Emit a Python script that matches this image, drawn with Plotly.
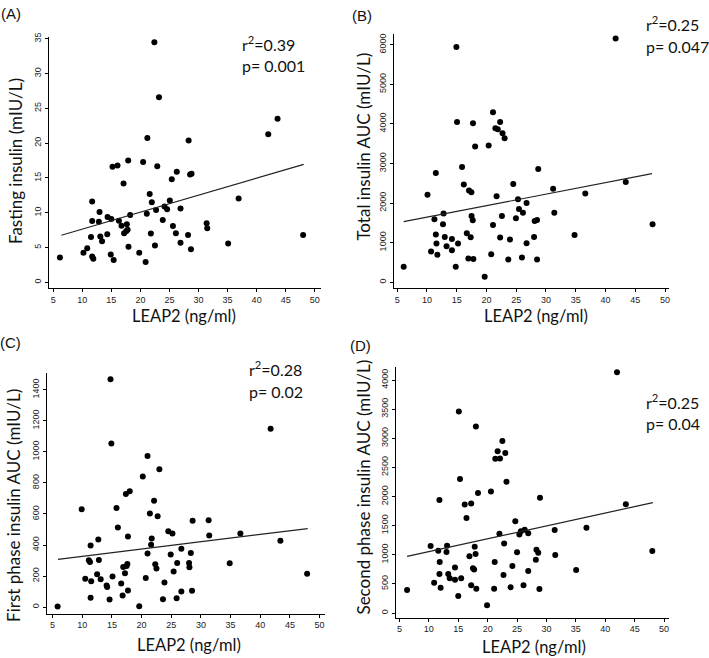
import plotly.graph_objects as go

# ---------------- data ----------------
leap2_a = [6.15, 10.2, 10.85, 11.5, 11.7, 11.7, 11.7, 11.9, 12.85, 12.97, 13.1, 13.4, 14.3, 14.35, 15.0, 14.9,
           15.4, 15.2, 16.06, 16.3, 16.75, 17.1, 17.2, 17.55, 17.66, 17.8, 17.95, 17.9, 18.24, 19.8, 20.47, 20.9,
           21.1, 21.2, 21.6, 21.8, 21.96, 22.4, 22.5, 22.7, 22.9, 23.2, 23.85, 24.14, 24.6, 25.06, 25.4, 25.6,
           26.1, 26.26, 26.9, 26.9, 28.2, 28.3, 28.55, 28.8, 28.7, 31.4, 31.5, 35.1, 36.9, 42.0, 43.6, 48.0]
fasting_insulin = [3.57, 4.24, 4.9, 6.5, 8.8, 11.6, 3.7, 3.4, 8.7, 10.1, 6.6, 5.9, 6.9, 9.4, 9.1, 4.0,
                   3.2, 16.6, 16.8, 8.86, 8.14, 14.2, 7.05, 7.33, 8.33, 7.57, 5.1, 17.5, 9.67, 4.24, 17.3, 2.9,
                   9.86, 20.76, 12.7, 7.0, 11.5, 34.5, 5.3, 10.4, 16.7, 26.6, 8.95, 10.9, 10.5, 11.76, 14.8, 8.1,
                   7.05, 15.9, 10.6, 5.7, 6.8, 20.4, 15.5, 15.6, 4.76, 8.5, 7.76, 5.57, 12.05, 21.3, 23.5, 6.8]
fit_x_a = [6.4, 48.1]
fit_y_a = [6.76, 16.95]

leap2_b = [6.1, 10.1, 10.7, 11.26, 11.5, 11.5, 11.6, 11.76, 12.7, 12.8, 13.0, 13.3, 14.2, 14.2, 14.84, 14.95,
           15.06, 15.23, 15.9, 16.2, 16.7, 16.96, 17.07, 17.35, 17.47, 17.5, 17.7, 17.74, 17.8, 18.1, 19.7, 20.37,
           20.8, 21.1, 21.1, 21.5, 21.7, 21.9, 22.3, 22.3, 22.6, 22.7, 23.05, 23.67, 23.95, 24.5, 24.95, 25.3,
           25.46, 25.96, 26.13, 26.74, 26.74, 28.0, 28.1, 28.5, 28.5, 28.7, 31.2, 31.4, 34.8, 36.6, 41.7, 43.4, 47.9]
total_insulin_auc = [393, 2209, 778, 1590, 2761, 1205, 979, 695, 1464, 1740, 1146, 912, 1096, 812, 393, 5941,
                     4050, 979, 2912, 2469, 1238, 602, 2318, 1138, 2276, 1674, 1565, 4017, 586, 3431, 142, 3456,
                     711, 1448, 4293, 3891, 2176, 3866, 4050, 1130, 1674, 3766, 3640, 577, 1079, 2485, 1615, 2100,
                     1849, 628, 1757, 2000, 987, 1146, 1548, 1573, 577, 2862, 2360, 1757, 1197, 2243, 6159, 2535, 1464]
fit_x_b = [6.1, 47.8]
fit_y_b = [1531, 2745]

leap2_c = [5.84, 9.9, 10.5, 11.1, 11.3, 11.4, 11.5, 11.4, 12.5, 12.7, 12.8, 13.1, 14.1, 14.2, 14.6, 14.76,
           14.9, 15.1, 15.77, 16.0, 16.56, 16.8, 16.9, 17.2, 17.35, 17.46, 17.6, 17.7, 17.7, 18.0, 19.6, 20.2,
           20.7, 21.0, 21.0, 21.4, 21.6, 21.7, 22.1, 22.3, 22.5, 22.7, 23.0, 23.6, 23.85, 24.5, 24.9, 25.2,
           25.4, 25.9, 26.0, 26.7, 26.7, 28.0, 28.06, 28.3, 28.6, 28.5, 31.3, 31.4, 34.85, 36.65, 41.75, 43.4, 47.9]
first_phase_auc = [4, 630, 182, 301, 291, 397, 167, 60, 212, 436, 303, 180, 139, 130, 49, 1468,
                   1054, 197, 639, 513, 152, 75, 259, 218, 729, 265, 278, 455, 107, 746, 6, 842,
                   188, 974, 346, 603, 402, 442, 686, 276, 248, 586, 889, 51, 158, 489, 338, 474,
                   229, 56, 284, 376, 100, 284, 256, 348, 556, 105, 560, 462, 282, 474, 1150, 427, 214]
fit_x_c = [5.9, 48.0]
fit_y_c = [308, 506]

leap2_d = [6.3, 10.3, 10.9, 11.6, 11.8, 11.85, 11.8, 12.0, 13.0, 13.1, 13.3, 13.55, 14.45, 14.45, 15.0, 15.1,
           15.3, 15.5, 16.1, 16.4, 16.9, 17.2, 17.2, 17.5, 17.7, 17.8, 17.95, 18.0, 18.07, 18.36, 19.9, 20.56,
           21.1, 21.2, 21.3, 21.7, 22.0, 22.1, 22.5, 22.7, 22.8, 23.0, 23.2, 23.9, 24.2, 24.7, 25.0, 25.4,
           25.65, 26.1, 26.3, 26.9, 26.9, 28.2, 28.3, 28.6, 28.8, 28.9, 31.4, 31.5, 35.05, 36.8, 42.0, 43.5, 48.0]
second_phase_auc = [393, 1149, 518, 1070, 1940, 876, 671, 432, 1047, 1155, 671, 597, 780, 569, 290, 3460,
                    2299, 597, 1861, 1633, 973, 478, 1878, 768, 745, 1138, 1013, 3203, 415, 2060, 131, 2088,
                    415, 876, 2646, 2777, 1360, 2652, 2953, 654, 1195, 2748, 2253, 444, 808, 1576, 1041, 1349,
                    1405, 478, 1428, 1371, 723, 916, 1087, 1036, 410, 1980, 1423, 996, 740, 1462, 4131, 1866, 1064]
fit_x_d = [6.3, 48.1]
fit_y_d = [973, 1895]

x_ticks = [5, 10, 15, 20, 25, 30, 35, 40, 45, 50]
x_title = "LEAP2 (ng/ml)"
panel_labels = ["(A)", "(B)", "(C)", "(D)"]
y_titles = ["Fasting insulin (mIU/L)", "Total insulin AUC (mIU/L)",
            "First phase insulin AUC (mIU/L)", "Second phase insulin AUC (mIU/L)"]
r2_texts = ["r<sup>2</sup>=0.39", "r<sup>2</sup>=0.25", "r<sup>2</sup>=0.28", "r<sup>2</sup>=0.25"]
p_texts = ["p= 0.001", "p= 0.047", "p= 0.02", "p= 0.04"]

# ---------------- layout helpers ----------------
W, H = 709, 658


def fx(p):
    return p / W


def fy(p):
    return 1 - p / H


panels = [
    dict(x=leap2_a, y=fasting_insulin, fx=fit_x_a, fy=fit_y_a,
         dom_x=(49, 321), dom_y=(286, 33), xr=[4.26, 51.0], yr=[-0.86, 35.3], dtick=5,
         ytitle_pos=(15, 158), xtitle_pos=(184, 314), label_pos=(11, 10), ann_x=240, r_y=40, p_y=62),
    dict(x=leap2_b, y=total_insulin_auc, fx=fit_x_b, fy=fit_y_b,
         dom_x=(394.3, 670), dom_y=(285.7, 30), xr=[4.43, 50.67], yr=[-143, 6276], dtick=1000,
         ytitle_pos=(364, 143), xtitle_pos=(537, 314), label_pos=(363, 12), ann_x=645, r_y=20, p_y=43),
    dict(x=leap2_c, y=first_phase_auc, fx=fit_x_c, fy=fit_y_c,
         dom_x=(46.7, 325), dom_y=(613.3, 371.7), xr=[3.99, 50.84], yr=[-42, 1506], dtick=200,
         ytitle_pos=(14, 504), xtitle_pos=(189, 645), label_pos=(11, 341), ann_x=247, r_y=367, p_y=390),
    dict(x=leap2_d, y=second_phase_auc, fx=fit_x_d, fy=fit_y_d,
         dom_x=(396.3, 670), dom_y=(617.3, 365), xr=[4.37, 50.85], yr=[-78, 4227], dtick=500,
         ytitle_pos=(364, 486), xtitle_pos=(535, 647), label_pos=(361, 344), ann_x=645, r_y=400, p_y=422),
]

fig = go.Figure()
annotations = []
tick_font = dict(family="Liberation Sans, Arial, sans-serif", size=9, color="#222222")
xtitle_font = dict(family="Lato, Open Sans, sans-serif", size=16.5, color="#111111")
ytitle_font = dict(family="Lato, Open Sans, sans-serif", size=17, color="#111111")
stat_font = dict(family="Lato, Open Sans, sans-serif", size=16, color="#111111")
label_font = dict(family="Liberation Sans, Arial, sans-serif", size=15, color="#111111")

for i, p in enumerate(panels):
    n = "" if i == 0 else str(i + 1)
    xa, ya = "x" + n, "y" + n
    fig.add_trace(go.Scatter(x=p["x"], y=p["y"], mode="markers", xaxis=xa, yaxis=ya,
                             marker=dict(color="black", size=6), showlegend=False, hoverinfo="skip"))
    fig.add_trace(go.Scatter(x=p["fx"], y=p["fy"], mode="lines", xaxis=xa, yaxis=ya,
                             line=dict(color="#222222", width=1.2), showlegend=False, hoverinfo="skip"))
    common = dict(showgrid=False, zeroline=False, showline=True, linecolor="black", linewidth=1,
                  ticks="outside", ticklen=3, tickwidth=1, tickcolor="black", tickfont=tick_font)
    fig.update_layout({
        ("xaxis" + n): dict(domain=[fx(p["dom_x"][0]), fx(p["dom_x"][1])], range=p["xr"],
                            anchor=ya, tickvals=x_ticks, **common),
        ("yaxis" + n): dict(domain=[fy(p["dom_y"][0]), fy(p["dom_y"][1])], range=p["yr"],
                            anchor=xa, dtick=p["dtick"], tick0=0, tickangle=-90, **common),
    })
    annotations += [
        dict(text=x_title, x=fx(p["xtitle_pos"][0]), y=fy(p["xtitle_pos"][1]), xref="paper", yref="paper",
             showarrow=False, font=xtitle_font, xanchor="center", yanchor="middle"),
        dict(text=y_titles[i], x=fx(p["ytitle_pos"][0]), y=fy(p["ytitle_pos"][1]), xref="paper",
             yref="paper", showarrow=False, font=ytitle_font, textangle=-90,
             xanchor="center", yanchor="middle"),
        dict(text=panel_labels[i], x=fx(p["label_pos"][0]), y=fy(p["label_pos"][1]), xref="paper",
             yref="paper", showarrow=False, font=label_font, xanchor="center", yanchor="middle"),
        dict(text=r2_texts[i], x=fx(p["ann_x"]), y=fy(p["r_y"]), xref="paper", yref="paper",
             showarrow=False, font=stat_font, xanchor="left", yanchor="middle"),
        dict(text=p_texts[i], x=fx(p["ann_x"]), y=fy(p["p_y"]), xref="paper", yref="paper",
             showarrow=False, font=stat_font, xanchor="left", yanchor="middle"),
    ]

fig.update_layout(width=W, height=H, margin=dict(l=0, r=0, t=0, b=0),
                  paper_bgcolor="white", plot_bgcolor="white", annotations=annotations)
fig.write_html("out.html", config={"displayModeBar": False},
               post_script="document.body.style.margin='0';document.body.style.overflow='hidden';")
